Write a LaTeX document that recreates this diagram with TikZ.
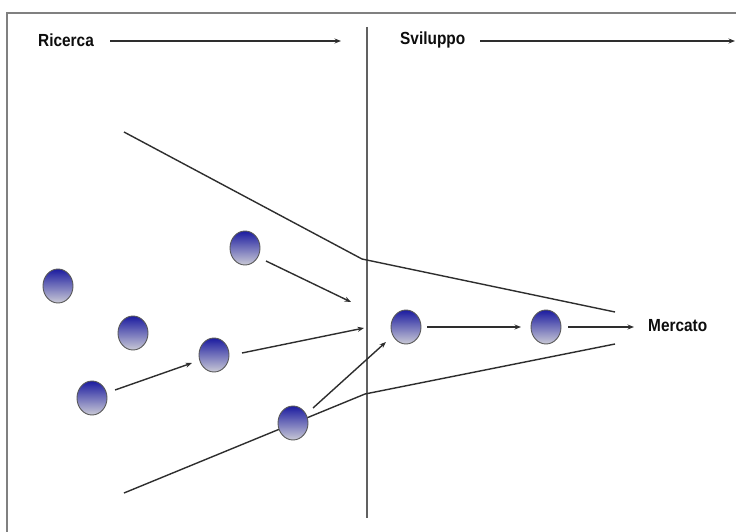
\documentclass[tikz,border=0pt]{standalone}
\usepackage{fontspec}
\setmainfont{Liberation Sans}
\usetikzlibrary{arrows.meta,shapes.geometric}
\definecolor{lncol}{HTML}{2E2E2E}
\definecolor{framecol}{HTML}{808080}
\definecolor{balltop}{HTML}{1C1CA0}
\definecolor{ballbot}{HTML}{CACAD6}
\newcommand{\lbltext}[1]{\scalebox{0.88}[1]{#1}}
\begin{document}
\begin{tikzpicture}[x=1pt,y=-1pt,
  ball/.style={ellipse, minimum width=30pt, minimum height=34pt, inner sep=0pt,
    draw=black!65, line width=0.9pt, top color=balltop, bottom color=ballbot},
  conn/.style={draw=lncol, line width=1.4pt},
  arr/.style={conn, -{Stealth[length=6.5pt,width=5pt]}},
  lbl/.style={font=\fontsize{17.5}{20}\selectfont\bfseries, text=black!95, inner sep=0pt, anchor=west}
]
\useasboundingbox (0,0) rectangle (736,532);
\fill[white] (0,0) rectangle (736,532);
% frame
\coordinate (fbl) at (7,532);
\coordinate (ftl) at (7,13);
\coordinate (ftr) at (736,13);
\draw[framecol, line width=1.4pt] (fbl) -- (ftl) -- (ftr);
% divider
\coordinate (vtop) at (367,27);
\coordinate (vbot) at (367,518);
\draw[draw=black!62, line width=1.3pt] (vtop) -- (vbot);
% headers
\node[lbl] (ric) at (38,40) {\lbltext{Ricerca}};
\coordinate (ricstart) at (110,41);
\coordinate (ricend) at (341,41);
\draw[arr] (ricstart) -- (ricend);
\node[lbl] (svi) at (400,40) {\lbltext{Sviluppo}};
\coordinate (svistart) at (480,41);
\coordinate (sviend) at (735,41);
\draw[arr] (svistart) -- (sviend);
% funnel
\coordinate (u1) at (124,132);
\coordinate (u2) at (362,259);
\coordinate (u3) at (615,312);
\coordinate (l1) at (124,493);
\coordinate (l2) at (365,394);
\coordinate (l3) at (615,344);
\draw[conn, line join=round] (u1) -- (u2) -- (u3);
\draw[conn, line join=round] (l1) -- (l2) -- (l3);
% balls
\node[ball] (A) at (58,286) {};
\node[ball] (B) at (133,333) {};
\node[ball] (C) at (92,398) {};
\node[ball] (D) at (214,355) {};
\node[ball] (E) at (245,248) {};
\node[ball] (F) at (293,423) {};
\node[ball] (G) at (406,327) {};
\node[ball] (H) at (546,327) {};
\node[lbl] (mer) at (648,326) {\lbltext{Mercato}};
% arrows
\coordinate (Cs) at (115,390);
\coordinate (Ce) at (192,363);
\coordinate (Es) at (266,261);
\coordinate (Ee) at (351,302);
\coordinate (Ds) at (242,353);
\coordinate (De) at (364,328);
\coordinate (Fs) at (313,408);
\coordinate (Fe) at (386,342);
\coordinate (Gs) at (427,327);
\coordinate (Ge) at (521,327);
\coordinate (Hs) at (568,327);
\coordinate (He) at (634,327);
\draw[arr] (Cs) -- (Ce);
\draw[arr] (Es) -- (Ee);
\draw[arr] (Ds) -- (De);
\draw[arr] (Fs) -- (Fe);
\draw[arr] (Gs) -- (Ge);
\draw[arr] (Hs) -- (He);
\end{tikzpicture}
\end{document}
